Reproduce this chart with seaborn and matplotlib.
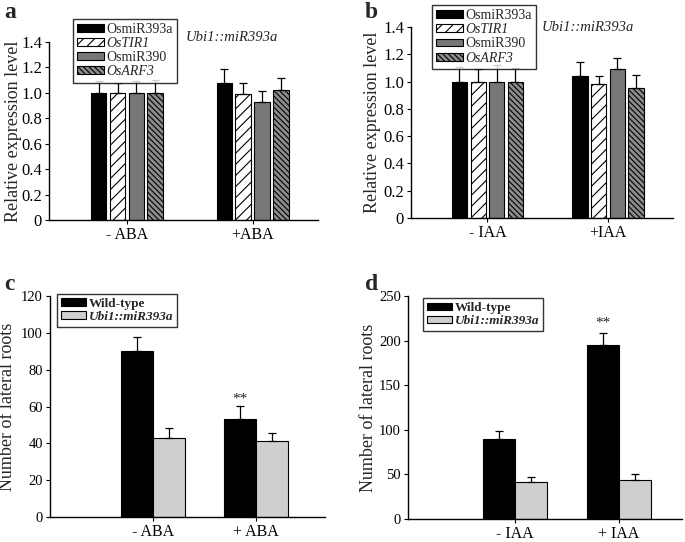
import pandas as pd
import seaborn as sns
import matplotlib.pyplot as plt

# ---- data ----
genes = ["OsmiR393a", "OsTIR1", "OsmiR390", "OsARF3"]

aba_groups = ["- ABA", "+ABA"]
aba_expr = [[1.00, 1.00, 1.00, 1.00], [1.08, 0.99, 0.93, 1.02]]
aba_expr_err = [[0.09, 0.075, 0.09, 0.105], [0.11, 0.085, 0.085, 0.10]]

iaa_groups = ["- IAA", "+IAA"]
iaa_expr = [[1.00, 1.00, 1.00, 1.00], [1.04, 0.985, 1.09, 0.955]]
iaa_expr_err = [[0.11, 0.09, 0.12, 0.10], [0.10, 0.055, 0.08, 0.09]]

lines = ["Wild-type", "Ubi1::miR393a"]

aba_root_groups = ["- ABA", "+ ABA"]
aba_roots = [[90, 43], [53, 41]]
aba_roots_err = [[8, 5.5], [7.5, 4.5]]

iaa_root_groups = ["- IAA", "+ IAA"]
iaa_roots = [[90, 42], [195, 44]]
iaa_roots_err = [[8.5, 5.5], [13, 6]]

sns.set_theme(style="ticks")
plt.rcParams["font.family"] = ["Liberation Serif", "DejaVu Serif"]
plt.rcParams["hatch.linewidth"] = 0.8

gene_style = {
    "OsmiR393a": ("black", ""),
    "OsTIR1": ("white", "///"),
    "OsmiR390": ("#777777", ""),
    "OsARF3": ("#8c8c8c", "\\\\\\\\\\\\"),
}
line_style = {"Wild-type": ("black", ""), "Ubi1::miR393a": ("#cfcfcf", "")}
italic_names = {"OsTIR1", "OsARF3", "Ubi1::miR393a"}


def to_frame(groups, hues, vals, errs):
    rows = []
    for g, vrow, erow in zip(groups, vals, errs):
        for h, v, e in zip(hues, vrow, erow):
            rows.append({"group": g, "series": h, "value": v, "err": e})
    return pd.DataFrame(rows)


def panel(ax, df, hues, styles, width, gap, xlim, ylim, yticks, ylabel, label_x,
          tick_fs, leg_box, leg_bold, leg_fs):
    pal = {h: styles[h][0] for h in hues}
    sns.barplot(data=df, x="group", y="value", hue="series", hue_order=hues,
                palette=pal, width=width, gap=gap, errorbar=None, ax=ax,
                edgecolor="black", linewidth=0.8, saturation=1, legend=True)
    # hatches + upward error bars
    for cont, h in zip(ax.containers, hues):
        sub = df[df["series"] == h]
        for patch, (_, r) in zip(cont.patches, sub.iterrows()):
            patch.set_hatch(styles[h][1])
            xc = patch.get_x() + patch.get_width() / 2
            ax.errorbar(xc, r["value"], yerr=[[0], [r["err"]]], fmt="none",
                        ecolor="black", elinewidth=0.9, capsize=3, capthick=0.9)
    ax.set_xlim(*xlim)
    ax.set_ylim(*ylim)
    ax.set_yticks(yticks)
    if ylim[1] < 2:
        ylabs = ["0" if t == 0 else f"{t:.1f}" for t in yticks]
    else:
        ylabs = [f"{t:g}" for t in yticks]
    ax.set_yticklabels(ylabs, fontsize=tick_fs)
    ax.set_xticklabels([t.get_text() for t in ax.get_xticklabels()], fontsize=11.5)
    ax.set_xlabel("")
    ax.set_ylabel(ylabel, fontsize=13)
    ax.yaxis.set_label_coords(label_x, 0.5)
    sns.despine(ax=ax)
    for s in ("left", "bottom"):
        ax.spines[s].set_linewidth(1.0)
        ax.spines[s].set_color("black")
    ax.tick_params(length=3, width=0.8, colors="black", pad=2)
    leg = ax.legend(loc="upper left", bbox_to_anchor=leg_box, frameon=True, fancybox=False,
                    edgecolor="black", fontsize=leg_fs, handlelength=1.9, handleheight=0.5,
                    handletextpad=0.2, borderpad=0.3, labelspacing=0.08, borderaxespad=0)
    leg.get_frame().set_linewidth(1.0)
    for t in leg.get_texts():
        if t.get_text() in italic_names:
            t.set_style("italic")
        if leg_bold:
            t.set_weight("bold")
    for hnd, h in zip(leg.legend_handles, hues):
        hnd.set_hatch(styles[h][1])
    return ax


fig = plt.figure(figsize=(6.85, 5.42), dpi=100)
W, H = 685, 542


def px_axes(left, right, top, bottom):
    return fig.add_axes([left / W, 1 - bottom / H, (right - left) / W, (bottom - top) / H])


ax_a = px_axes(49, 318, 42, 220)
ax_b = px_axes(411, 673, 27, 218)
ax_c = px_axes(50, 325, 296, 517)
ax_d = px_axes(408, 682, 296, 519)

expr_ticks = [0, 0.2, 0.4, 0.6, 0.8, 1.0, 1.2, 1.4]

panel(ax_a, to_frame(aba_groups, genes, aba_expr, aba_expr_err), genes, gene_style,
      0.60, 0.18, (-0.62, 1.52), (0, 1.4), expr_ticks, "Relative expression level", -0.1,
      12, (0.09, 1.13), False, 10)
panel(ax_b, to_frame(iaa_groups, genes, iaa_expr, iaa_expr_err), genes, gene_style,
      0.62, 0.18, (-0.635, 1.54), (0, 1.4), expr_ticks, "Relative expression level", -0.115,
      12, (0.08, 1.115), False, 10)
panel(ax_c, to_frame(aba_root_groups, lines, aba_roots, aba_roots_err), lines, line_style,
      0.62, 0, (-1.0, 1.67), (0, 120), [0, 20, 40, 60, 80, 100, 120], "Number of lateral roots",
      -0.125, 10.5, (0.025, 1.01), True, 9.5)
panel(ax_d, to_frame(iaa_root_groups, lines, iaa_roots, iaa_roots_err), lines, line_style,
      0.62, 0, (-1.03, 1.61), (0, 250), [0, 50, 100, 150, 200, 250], "Number of lateral roots",
      -0.113, 10.5, (0.055, 0.99), True, 9.5)

# annotations
ax_a.text(0.68, 1.028, "Ubi1::miR393a", transform=ax_a.transAxes, ha="center", va="center",
          style="italic", fontsize=10.5)
ax_b.text(0.676, 0.995, "Ubi1::miR393a", transform=ax_b.transAxes, ha="center", va="center",
          style="italic", fontsize=10.5)
ax_c.text(1 - 0.155, 64, "**", ha="center", va="center", fontsize=11)
ax_d.text(1 - 0.155, 220, "**", ha="center", va="center", fontsize=11)

for lab, x, y in [("a", 4, 12), ("b", 365, 12), ("c", 4, 285), ("d", 365, 285)]:
    fig.text(x / W, 1 - y / H, lab, fontsize=17, fontweight="bold", va="center", ha="left")

fig.savefig("out.png", dpi=100)
